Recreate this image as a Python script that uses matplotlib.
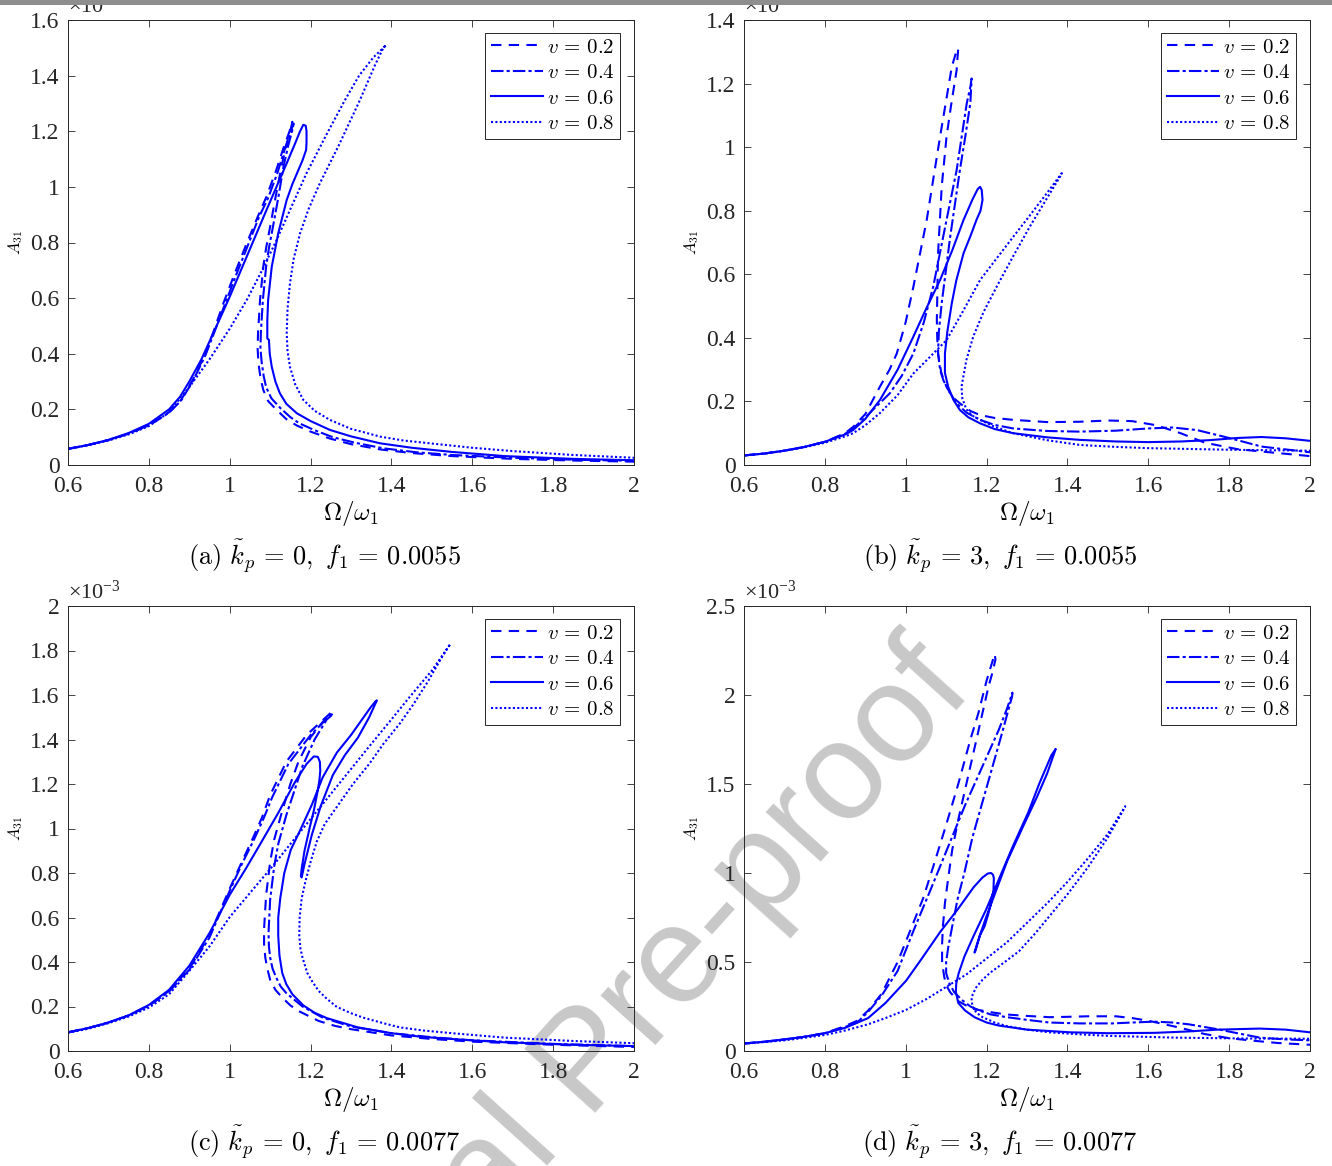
import matplotlib
matplotlib.use("Agg")
import matplotlib.pyplot as plt
from matplotlib.patches import Rectangle

plt.rcParams['font.family'] = ['Liberation Serif', 'DejaVu Serif']
plt.rcParams['mathtext.fontset'] = 'cm'

# amplitudes are in units of 1e-3
v_labels = ['0.2', '0.4', '0.6', '0.8']
x_ticks = [0.6, 0.8, 1.0, 1.2, 1.4, 1.6, 1.8, 2.0]
y_ticks_a = [0, 0.2, 0.4, 0.6, 0.8, 1.0, 1.2, 1.4, 1.6]
y_ticks_b = [0, 0.2, 0.4, 0.6, 0.8, 1.0, 1.2, 1.4]
y_ticks_c = [0, 0.2, 0.4, 0.6, 0.8, 1.0, 1.2, 1.4, 1.6, 1.8, 2.0]
y_ticks_d = [0, 0.5, 1.0, 1.5, 2.0, 2.5]
captions = [r"$\mathrm{(a)}\ \tilde{k}_p\,=\,0,\ f_1\,=\,0.0055$",
            r"$\mathrm{(b)}\ \tilde{k}_p\,=\,3,\ f_1\,=\,0.0055$",
            r"$\mathrm{(c)}\ \tilde{k}_p\,=\,0,\ f_1\,=\,0.0077$",
            r"$\mathrm{(d)}\ \tilde{k}_p\,=\,3,\ f_1\,=\,0.0077$"]

# ---- panel (a): kp=0, f1=0.0055
om_a2 = [0.60, 0.65, 0.70, 0.75, 0.80, 0.85, 0.88, 0.91, 0.94, 0.96, 0.984, 1.01, 1.042,
         1.07, 1.091, 1.115, 1.133, 1.148, 1.155,
         1.153, 1.14, 1.128, 1.113, 1.10, 1.09, 1.083, 1.075, 1.07, 1.069, 1.071, 1.076,
         1.083, 1.095, 1.116, 1.14, 1.166, 1.2, 1.248, 1.3, 1.372, 1.45, 1.55, 1.7, 1.85, 2.0]
amp_a2 = [0.058, 0.072, 0.09, 0.113, 0.143, 0.19, 0.235, 0.31, 0.40, 0.48, 0.58, 0.68, 0.797,
          0.895, 0.965, 1.06, 1.14, 1.2, 1.234,
          1.22, 1.15, 1.073, 0.96, 0.857, 0.78, 0.713, 0.593, 0.473, 0.42, 0.366, 0.315,
          0.27, 0.23, 0.198, 0.165, 0.142, 0.12, 0.095, 0.075, 0.056, 0.043, 0.032, 0.022,
          0.016, 0.012]
om_a4 = [0.60, 0.65, 0.70, 0.75, 0.80, 0.85, 0.88, 0.91, 0.94, 0.96, 0.99, 1.015, 1.045,
         1.072, 1.095, 1.118, 1.135, 1.15, 1.158,
         1.156, 1.145, 1.133, 1.12, 1.107, 1.097, 1.09, 1.082, 1.077, 1.076, 1.079, 1.084,
         1.09, 1.103, 1.125, 1.15, 1.172, 1.21, 1.255, 1.31, 1.38, 1.46, 1.55, 1.7, 1.85, 2.0]
amp_a4 = [0.058, 0.072, 0.09, 0.113, 0.142, 0.188, 0.232, 0.305, 0.395, 0.47, 0.585, 0.68,
          0.79, 0.89, 0.96, 1.05, 1.13, 1.195, 1.228,
          1.21, 1.15, 1.073, 0.96, 0.857, 0.78, 0.713, 0.593, 0.473, 0.42, 0.37, 0.32,
          0.28, 0.24, 0.205, 0.172, 0.15, 0.125, 0.10, 0.08, 0.06, 0.046, 0.036, 0.026,
          0.019, 0.015]
om_a6 = [0.60, 0.65, 0.70, 0.75, 0.80, 0.85, 0.877, 0.90, 0.93, 0.959, 0.98, 1.0, 1.042,
         1.091, 1.141, 1.16, 1.174, 1.182, 1.188, 1.19, 1.19, 1.189, 1.18, 1.17, 1.155,
         1.141, 1.12, 1.104, 1.095, 1.093, 1.093, 1.097, 1.099, 1.104, 1.113, 1.124, 1.14,
         1.166, 1.2, 1.248, 1.3, 1.372, 1.45, 1.55, 1.68, 1.85, 2.0]
amp_a6 = [0.058, 0.072, 0.09, 0.115, 0.148, 0.2, 0.245, 0.3, 0.38, 0.473, 0.54, 0.605, 0.749,
          0.917, 1.085, 1.15, 1.2, 1.223, 1.22, 1.2, 1.16, 1.133, 1.095, 1.061, 1.01,
          0.953, 0.833, 0.713, 0.593, 0.52, 0.455, 0.45, 0.40, 0.353, 0.30, 0.258, 0.22,
          0.186, 0.158, 0.126, 0.103, 0.078, 0.062, 0.047, 0.032, 0.022, 0.017]
om_a8 = [0.60, 0.65, 0.70, 0.75, 0.80, 0.85, 0.90, 0.95, 1.0, 1.042, 1.08, 1.116,
         1.15, 1.19, 1.24, 1.285, 1.32, 1.355, 1.387,
         1.38, 1.36, 1.322, 1.27, 1.223, 1.195, 1.174, 1.158, 1.149, 1.143, 1.141, 1.143,
         1.149, 1.162, 1.182, 1.21, 1.248, 1.3, 1.372, 1.43, 1.495, 1.6, 1.7, 1.85, 2.0]
amp_a8 = [0.058, 0.071, 0.088, 0.11, 0.14, 0.19, 0.28, 0.38, 0.49, 0.593, 0.70, 0.809,
          0.92, 1.049, 1.19, 1.312, 1.40, 1.465, 1.51,
          1.50, 1.44, 1.312, 1.15, 1.013, 0.92, 0.833, 0.74, 0.653, 0.56, 0.473, 0.41,
          0.353, 0.29, 0.234, 0.195, 0.162, 0.13, 0.102, 0.088, 0.078, 0.062, 0.05, 0.036,
          0.026]

# ---- panel (b): kp=3, f1=0.0055
om_b2 = [0.60, 0.65, 0.70, 0.75, 0.80, 0.85, 0.87, 0.90, 0.936, 0.96, 0.978, 1.0, 1.019,
         1.052, 1.085, 1.114, 1.125, 1.130,
         1.128, 1.126, 1.112, 1.101, 1.089, 1.08, 1.077, 1.078, 1.08, 1.088, 1.101, 1.115,
         1.134, 1.16, 1.184, 1.22, 1.266, 1.35, 1.43, 1.50, 1.56, 1.62, 1.68, 1.74, 1.82,
         1.90, 2.00]
amp_b2 = [0.03, 0.036, 0.045, 0.057, 0.073, 0.1, 0.12, 0.16, 0.246, 0.30, 0.351, 0.45, 0.561,
          0.771, 1.033, 1.253, 1.30, 1.311,
          1.28, 1.243, 1.13, 1.033, 0.875, 0.666, 0.456, 0.40, 0.351, 0.29, 0.246, 0.215,
          0.194, 0.17, 0.157, 0.148, 0.142, 0.135, 0.136, 0.14, 0.138, 0.125, 0.10, 0.07,
          0.05, 0.04, 0.028]
om_b4 = [0.60, 0.65, 0.70, 0.75, 0.80, 0.85, 0.87, 0.90, 0.961, 0.99, 1.019, 1.045, 1.068,
         1.101, 1.126, 1.151, 1.16, 1.163,
         1.162, 1.16, 1.147, 1.134, 1.11, 1.089, 1.082, 1.08, 1.085, 1.093, 1.108, 1.126,
         1.15, 1.184, 1.22, 1.266, 1.35, 1.43, 1.52, 1.60, 1.66, 1.72, 1.80, 1.88, 2.00]
amp_b4 = [0.03, 0.036, 0.045, 0.057, 0.073, 0.098, 0.115, 0.15, 0.226, 0.28, 0.351, 0.45,
          0.561, 0.771, 0.928, 1.138, 1.19, 1.216,
          1.19, 1.14, 1.03, 0.928, 0.718, 0.509, 0.42, 0.351, 0.30, 0.267, 0.23, 0.194,
          0.165, 0.142, 0.126, 0.115, 0.107, 0.105, 0.108, 0.115, 0.118, 0.11, 0.085,
          0.058, 0.04]
om_b6 = [0.60, 0.65, 0.70, 0.75, 0.80, 0.85, 0.87, 0.90, 0.936, 0.98, 1.019, 1.05, 1.085,
         1.115, 1.143, 1.165, 1.178, 1.184, 1.188, 1.19, 1.185, 1.175, 1.16, 1.143, 1.125,
         1.114, 1.103, 1.097, 1.097, 1.105, 1.118, 1.134, 1.155, 1.184, 1.22, 1.266, 1.35,
         1.431, 1.52, 1.60, 1.68, 1.75, 1.82, 1.88, 1.94, 2.00]
amp_b6 = [0.03, 0.036, 0.045, 0.057, 0.073, 0.096, 0.11, 0.145, 0.204, 0.30, 0.404, 0.49,
          0.582, 0.675, 0.771, 0.835, 0.868, 0.875, 0.865, 0.834, 0.80, 0.771, 0.72, 0.666,
          0.58, 0.509, 0.42, 0.351, 0.29, 0.246, 0.205, 0.173, 0.15, 0.131, 0.113, 0.10,
          0.087, 0.079, 0.074, 0.072, 0.074, 0.078, 0.085, 0.088, 0.084, 0.076]
om_b8 = [0.60, 0.65, 0.70, 0.75, 0.80, 0.85, 0.87, 0.90, 0.936, 0.98, 1.019, 1.06, 1.101,
         1.14, 1.184, 1.225, 1.266, 1.31, 1.349, 1.386,
         1.383, 1.345, 1.307, 1.265, 1.225, 1.192, 1.167, 1.15, 1.138, 1.14, 1.15, 1.165,
         1.184, 1.22, 1.266, 1.35, 1.431, 1.52, 1.60, 1.80, 2.00]
amp_b8 = [0.03, 0.036, 0.045, 0.056, 0.07, 0.09, 0.1, 0.125, 0.163, 0.22, 0.288, 0.34,
          0.393, 0.48, 0.582, 0.65, 0.718, 0.79, 0.855, 0.918,
          0.91, 0.83, 0.75, 0.655, 0.561, 0.48, 0.404, 0.33, 0.246, 0.21, 0.175, 0.155,
          0.142, 0.12, 0.10, 0.078, 0.063, 0.057, 0.053, 0.048, 0.045]

# ---- panel (c): kp=0, f1=0.0077
om_c2 = [0.60, 0.65, 0.70, 0.75, 0.80, 0.85, 0.90, 0.95, 1.0, 1.03, 1.057, 1.08, 1.10,
         1.14, 1.19, 1.22, 1.25,
         1.245, 1.235, 1.20, 1.17, 1.15, 1.13, 1.11, 1.10, 1.09, 1.085, 1.085, 1.088,
         1.093, 1.10, 1.113, 1.13, 1.15, 1.17, 1.22, 1.26, 1.30, 1.40, 1.50, 1.60, 1.80, 2.0]
amp_c2 = [0.084, 0.103, 0.128, 0.16, 0.205, 0.27, 0.37, 0.52, 0.73, 0.85, 0.955, 1.05, 1.15,
          1.30, 1.42, 1.47, 1.52,
          1.505, 1.49, 1.41, 1.30, 1.20, 1.08, 0.95, 0.85, 0.70, 0.55, 0.48, 0.42,
          0.37, 0.32, 0.275, 0.24, 0.205, 0.18, 0.135, 0.113, 0.098, 0.07, 0.054, 0.042,
          0.028, 0.018]
om_c4 = [0.60, 0.65, 0.70, 0.75, 0.80, 0.85, 0.90, 0.95, 1.0, 1.03, 1.06, 1.085, 1.105,
         1.145, 1.20, 1.23, 1.255,
         1.25, 1.24, 1.21, 1.18, 1.16, 1.14, 1.12, 1.11, 1.10, 1.096, 1.097, 1.10, 1.106,
         1.115, 1.126, 1.14, 1.18, 1.23, 1.30, 1.40, 1.5, 1.60, 1.80, 2.0]
amp_c4 = [0.084, 0.103, 0.128, 0.16, 0.203, 0.267, 0.365, 0.51, 0.72, 0.84, 0.95, 1.05,
          1.14, 1.29, 1.42, 1.475, 1.52,
          1.505, 1.49, 1.40, 1.28, 1.17, 1.06, 0.93, 0.83, 0.68, 0.53, 0.47, 0.42, 0.37,
          0.33, 0.29, 0.26, 0.20, 0.15, 0.11, 0.08, 0.062, 0.048, 0.032, 0.022]
om_c6 = [0.60, 0.65, 0.70, 0.75, 0.80, 0.85, 0.90, 0.95, 1.0, 1.04, 1.078, 1.12, 1.161,
         1.19, 1.208, 1.218, 1.223, 1.224, 1.222, 1.218, 1.208, 1.198, 1.185, 1.178, 1.176,
         1.178, 1.185, 1.203, 1.225, 1.255, 1.285, 1.317, 1.345, 1.364,
         1.36, 1.348, 1.30, 1.265, 1.23, 1.203, 1.175, 1.151, 1.135, 1.125, 1.12, 1.12,
         1.123, 1.13, 1.14, 1.155, 1.182, 1.21, 1.24, 1.317, 1.4, 1.473, 1.58, 1.681, 1.85, 2.0]
amp_c6 = [0.084, 0.103, 0.128, 0.16, 0.207, 0.275, 0.383, 0.53, 0.702, 0.82, 0.938, 1.07,
          1.207, 1.29, 1.324, 1.322, 1.30, 1.26, 1.22, 1.173, 1.08, 1.005, 0.90, 0.82,
          0.785, 0.78, 0.84, 0.971, 1.10, 1.24, 1.33, 1.408, 1.50, 1.576,
          1.57, 1.543, 1.42, 1.341, 1.23, 1.106, 0.995, 0.904, 0.80, 0.686, 0.60, 0.518,
          0.43, 0.35, 0.30, 0.255, 0.205, 0.172, 0.148, 0.106, 0.08, 0.064, 0.05, 0.039,
          0.028, 0.022]
om_c8 = [0.60, 0.65, 0.70, 0.75, 0.80, 0.85, 0.90, 0.95, 1.0, 1.05, 1.109, 1.15, 1.19,
         1.23, 1.27, 1.31, 1.35, 1.40, 1.44, 1.50, 1.546,
         1.54, 1.52, 1.49, 1.455, 1.42, 1.38, 1.345, 1.305, 1.27, 1.235, 1.215, 1.20,
         1.187, 1.178, 1.173, 1.172, 1.175, 1.18, 1.192, 1.205, 1.22, 1.24, 1.265, 1.30,
         1.33, 1.38, 1.421, 1.48, 1.55, 1.681, 1.85, 2.0]
amp_c8 = [0.082, 0.1, 0.125, 0.155, 0.195, 0.255, 0.36, 0.47, 0.602, 0.71, 0.837, 0.93,
          1.02, 1.11, 1.20, 1.29, 1.38, 1.49, 1.58, 1.71, 1.829,
          1.815, 1.755, 1.66, 1.56, 1.47, 1.38, 1.29, 1.20, 1.11, 1.02, 0.94, 0.85,
          0.76, 0.686, 0.60, 0.518, 0.46, 0.42, 0.35, 0.31, 0.27, 0.235, 0.198, 0.17,
          0.15, 0.125, 0.106, 0.092, 0.08, 0.06, 0.045, 0.035]

# ---- panel (d): kp=3, f1=0.0077
om_d2 = [0.60, 0.65, 0.70, 0.75, 0.80, 0.85, 0.88, 0.907, 0.94, 0.98, 1.01, 1.043, 1.07,
         1.10, 1.13, 1.16, 1.18, 1.20, 1.212, 1.22,
         1.222, 1.215, 1.205, 1.19, 1.17, 1.15, 1.13, 1.115, 1.105, 1.097, 1.092, 1.09,
         1.09, 1.095, 1.10, 1.11, 1.13, 1.15, 1.17, 1.21, 1.25, 1.3, 1.355, 1.40, 1.45,
         1.52, 1.56, 1.60, 1.64, 1.68, 1.74, 1.80, 1.85, 1.92, 2.0]
amp_d2 = [0.042, 0.052, 0.065, 0.08, 0.1, 0.14, 0.17, 0.227, 0.32, 0.50, 0.67, 0.857, 1.05,
          1.27, 1.50, 1.75, 1.90, 2.08, 2.17, 2.23,
          2.2, 2.13, 2.05, 1.90, 1.70, 1.50, 1.30, 1.13, 0.97, 0.83, 0.70, 0.60,
          0.50, 0.42, 0.37, 0.33, 0.28, 0.255, 0.235, 0.218, 0.205, 0.197, 0.19, 0.192,
          0.195, 0.195, 0.185, 0.17, 0.15, 0.13, 0.095, 0.072, 0.06, 0.045, 0.035]
om_d4 = [0.60, 0.65, 0.70, 0.75, 0.80, 0.85, 0.88, 0.907, 0.94, 0.98, 1.02, 1.064, 1.10,
         1.147, 1.19, 1.23, 1.25, 1.264,
         1.263, 1.258, 1.24, 1.215, 1.19, 1.165, 1.145, 1.128, 1.115, 1.105, 1.10, 1.10,
         1.108, 1.12, 1.14, 1.16, 1.185, 1.209, 1.25, 1.3, 1.355, 1.43, 1.511, 1.56, 1.616,
         1.66, 1.70, 1.772, 1.82, 1.876, 1.94, 2.0]
amp_d4 = [0.042, 0.052, 0.065, 0.08, 0.1, 0.135, 0.16, 0.22, 0.31, 0.45, 0.68, 0.92, 1.12,
          1.382, 1.60, 1.803, 1.92, 2.013,
          1.99, 1.95, 1.80, 1.60, 1.40, 1.20, 1.0, 0.85, 0.70, 0.58, 0.50, 0.437,
          0.38, 0.33, 0.285, 0.25, 0.225, 0.206, 0.19, 0.175, 0.16, 0.155, 0.155, 0.16,
          0.165, 0.16, 0.15, 0.122, 0.10, 0.075, 0.065, 0.06]
om_d6 = [0.60, 0.65, 0.70, 0.75, 0.80, 0.85, 0.907, 0.95, 1.001, 1.04, 1.085, 1.13, 1.168,
         1.19, 1.203, 1.211, 1.216, 1.218, 1.217, 1.21, 1.203, 1.195, 1.183, 1.175, 1.17,
         1.172, 1.185, 1.199, 1.225, 1.251, 1.29, 1.324, 1.35, 1.371,
         1.366, 1.36, 1.33, 1.303, 1.265, 1.23, 1.2, 1.168, 1.145, 1.131, 1.125, 1.124,
         1.13, 1.147, 1.17, 1.2, 1.23, 1.3, 1.407, 1.5, 1.616, 1.7, 1.772, 1.876, 1.94, 2.0]
amp_d6 = [0.042, 0.052, 0.065, 0.08, 0.1, 0.13, 0.185, 0.27, 0.395, 0.52, 0.668, 0.80, 0.92,
          0.975, 0.997, 1.0, 0.99, 0.97, 0.90, 0.82, 0.76, 0.70, 0.647, 0.59, 0.553,
          0.56, 0.66, 0.752, 0.91, 1.067, 1.26, 1.424, 1.56, 1.697,
          1.68, 1.66, 1.50, 1.34, 1.15, 0.962, 0.80, 0.647, 0.53, 0.437, 0.38, 0.332,
          0.27, 0.227, 0.19, 0.16, 0.143, 0.12, 0.105, 0.1, 0.102, 0.11, 0.12, 0.126,
          0.12, 0.105]
om_d8 = [0.60, 0.65, 0.70, 0.75, 0.80, 0.85, 0.907, 0.95, 1.0, 1.05, 1.1, 1.15, 1.2, 1.25,
         1.3, 1.35, 1.4, 1.45, 1.5, 1.543,
         1.54, 1.50, 1.45, 1.40, 1.36, 1.32, 1.28, 1.245, 1.209, 1.19, 1.175, 1.166, 1.163,
         1.165, 1.175, 1.19, 1.22, 1.25, 1.3, 1.355, 1.42, 1.5, 1.668, 1.85, 2.0]
amp_d8 = [0.042, 0.05, 0.06, 0.074, 0.09, 0.115, 0.15, 0.185, 0.23, 0.29, 0.36, 0.43, 0.52,
          0.61, 0.72, 0.83, 0.95, 1.08, 1.22, 1.375,
          1.36, 1.20, 1.03, 0.88, 0.77, 0.66, 0.56, 0.50, 0.44, 0.40, 0.36, 0.32, 0.29,
          0.25, 0.215, 0.19, 0.16, 0.14, 0.12, 0.105, 0.095, 0.085, 0.075, 0.07, 0.069]

panels = [
    ([(om_a2, amp_a2), (om_a4, amp_a4), (om_a6, amp_a6), (om_a8, amp_a8)], y_ticks_a),
    ([(om_b2, amp_b2), (om_b4, amp_b4), (om_b6, amp_b6), (om_b8, amp_b8)], y_ticks_b),
    ([(om_c2, amp_c2), (om_c4, amp_c4), (om_c6, amp_c6), (om_c8, amp_c8)], y_ticks_c),
    ([(om_d2, amp_d2), (om_d4, amp_d4), (om_d6, amp_d6), (om_d8, amp_d8)], y_ticks_d),
]

styles = [dict(linestyle=(0, (5, 3.5))),
          dict(linestyle=(0, (6, 1.5, 1.5, 1.5))),
          dict(linestyle='-'),
          dict(linestyle=(0, (1, 1.1)))]

W, H = 1332, 1166
fig = plt.figure(figsize=(W / 100, H / 100), dpi=100)
fig.patch.set_facecolor('white')

# axes boxes in pixels: left, right, top, bottom
boxes = [(68, 634, 20, 465), (744, 1310, 20, 465),
         (68, 634, 606, 1051), (744, 1310, 606, 1051)]
caption_xy = [(324, 557), (1000, 557), (324, 1143), (1000, 1143)]
edge = '#262626'

# watermark sits behind the transparent axes
fig.text(975 / W, 1 - 690 / H, "Journal Pre-proof", fontsize=100, color='#c8c8c8',
         family='Liberation Sans', rotation=48, rotation_mode='anchor',
         ha='right', va='baseline', zorder=-5)

for i, (curves, yt) in enumerate(panels):
    l, r, t, b = boxes[i]
    ax = fig.add_axes([l / W, 1 - b / H, (r - l) / W, (b - t) / H])
    ax.set_facecolor('none')
    for (om, amp), st, lab in zip(curves, styles, v_labels):
        ax.plot(om, amp, color='#0000ff', lw=1.5, label=rf"$v\,=\,{lab}$", **st)
    ax.set_xlim(0.6, 2.0)
    ax.set_ylim(yt[0], yt[-1])
    ax.set_xticks(x_ticks)
    ax.set_xticklabels(['%g' % x for x in x_ticks])
    ax.set_yticks(yt)
    ax.set_yticklabels(['%g' % y for y in yt])
    ax.tick_params(direction='in', top=True, right=True, length=5, width=0.6,
                   color=edge, labelsize=17, labelcolor='#262626')
    ax.tick_params(axis='x', pad=8)
    ax.tick_params(axis='y', pad=6)
    for s in ax.spines.values():
        s.set_color(edge)
        s.set_linewidth(0.7)
    ax.set_xlabel(r"$\Omega/\omega_1$", fontsize=18, labelpad=1)
    ax.set_ylabel(r"$A_{31}$", fontsize=12, labelpad=4)
    ax.text(0.0, 1.004, r"$\mathdefault{\times 10^{-3}}$", transform=ax.transAxes,
            fontsize=16, ha='left', va='bottom', color='#262626')
    leg = ax.legend(loc='upper right', bbox_to_anchor=(0.975, 0.971), fontsize=15,
                    handlelength=2.5, handletextpad=0.2, labelspacing=0.28,
                    borderpad=0.25, borderaxespad=0, fancybox=False, framealpha=1)
    leg.get_frame().set_edgecolor(edge)
    leg.get_frame().set_linewidth(0.7)
    cx, cy = caption_xy[i]
    fig.text(cx / W, 1 - cy / H, captions[i], fontsize=19, ha='center', va='center')

# grey band along the top edge
fig.patches.append(Rectangle((0, 1 - 5 / H), 1, 5 / H, transform=fig.transFigure,
                             facecolor='#8e8e8e', edgecolor='none', zorder=10))

fig.savefig('out.png', dpi=100)
